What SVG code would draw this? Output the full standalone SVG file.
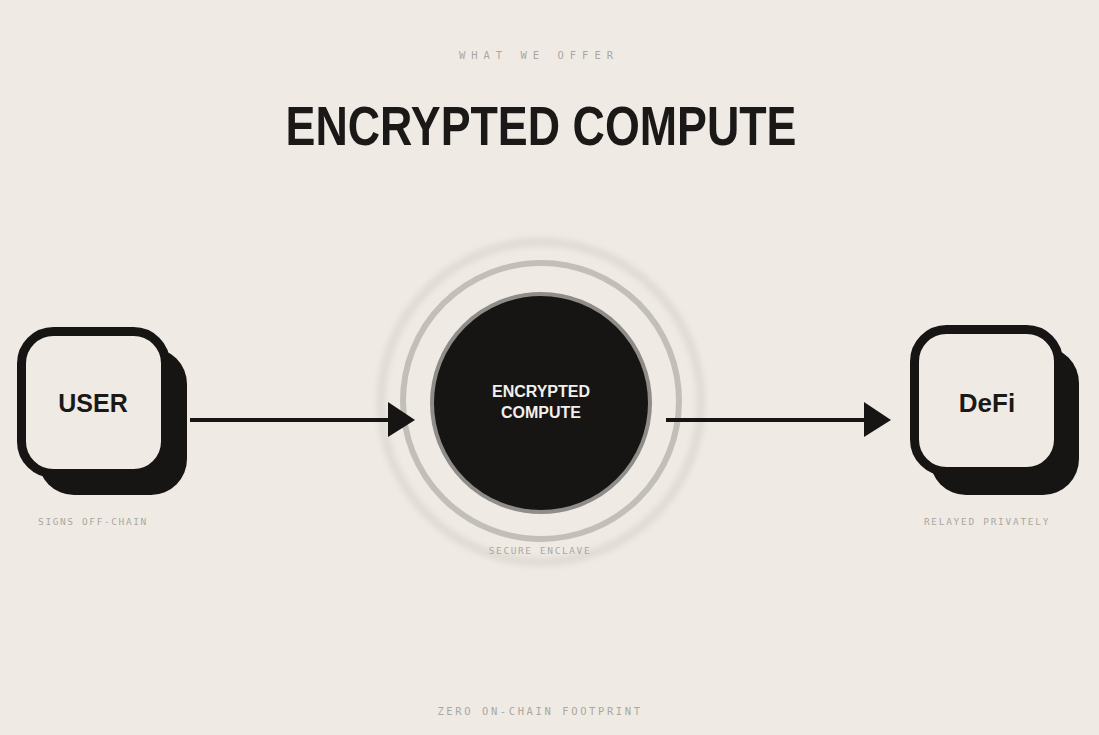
<svg xmlns="http://www.w3.org/2000/svg" width="1099" height="735" viewBox="0 0 1099 735">
<defs>
<style>
.mono{font-family:"DejaVu Sans Mono","Liberation Mono",monospace;fill:#aaa7a1;text-anchor:middle}
.box{fill:#efebe4;stroke:#161514;stroke-width:9}
.shadow{fill:#161514}
.lbl{font-family:"Liberation Sans",Arial,sans-serif;font-weight:bold;fill:#1a1918;text-anchor:middle}
.conn{stroke:#161514;stroke-width:4;fill:none}
.head{fill:#161514}
</style>
<filter id="blur" x="-20%" y="-20%" width="140%" height="140%"><feGaussianBlur stdDeviation="3"/></filter>
</defs>
<rect width="1099" height="735" fill="#efebe4"/>
<text class="mono" x="539" y="59" font-size="10.5" letter-spacing="6">WHAT WE OFFER</text>
<text class="lbl" x="541" y="145" font-size="56" textLength="511" lengthAdjust="spacingAndGlyphs">ENCRYPTED COMPUTE</text>

<g id="user">
<rect class="shadow" x="38" y="348" width="149" height="147" rx="36"/>
<rect class="box" x="21.5" y="331.5" width="144" height="142" rx="32"/>
<text class="lbl" x="93" y="412" font-size="25">USER</text>
<text class="mono" x="93" y="525" font-size="9.5" letter-spacing="1.6">SIGNS OFF-CHAIN</text>
</g>

<g id="enclave">
<circle cx="541" cy="402" r="160" fill="none" stroke="#dedad3" stroke-width="8" filter="url(#blur)"/>
<circle cx="541" cy="401" r="138" fill="none" stroke="#c2bfb9" stroke-width="6"/>
<circle cx="541" cy="403" r="109" fill="#161514" stroke="#8f8d89" stroke-width="4"/>
<text class="lbl" x="541" y="397" font-size="16" style="fill:#f2f0ec">ENCRYPTED</text>
<text class="lbl" x="541" y="418" font-size="16" style="fill:#f2f0ec">COMPUTE</text>
<text class="mono" x="540" y="554" font-size="9.5" letter-spacing="1.6">SECURE ENCLAVE</text>
</g>

<g id="defi">
<rect class="shadow" x="930" y="347" width="149" height="148" rx="36"/>
<rect class="box" x="914.5" y="329.5" width="144" height="142" rx="32"/>
<text class="lbl" x="987" y="412" font-size="26">DeFi</text>
<text class="mono" x="987" y="525" font-size="9.5" letter-spacing="1.7">RELAYED PRIVATELY</text>
</g>

<g id="connectors">
<line class="conn" x1="190" y1="420" x2="390" y2="420"/>
<path class="head" d="M388,402 L415,420 L388,437 Z"/>
<line class="conn" x1="666" y1="420" x2="866" y2="420"/>
<path class="head" d="M864,402 L891,420 L864,437 Z"/>
</g>

<text class="mono" x="540" y="715" font-size="10.5" letter-spacing="2.6">ZERO ON-CHAIN FOOTPRINT</text>
</svg>
